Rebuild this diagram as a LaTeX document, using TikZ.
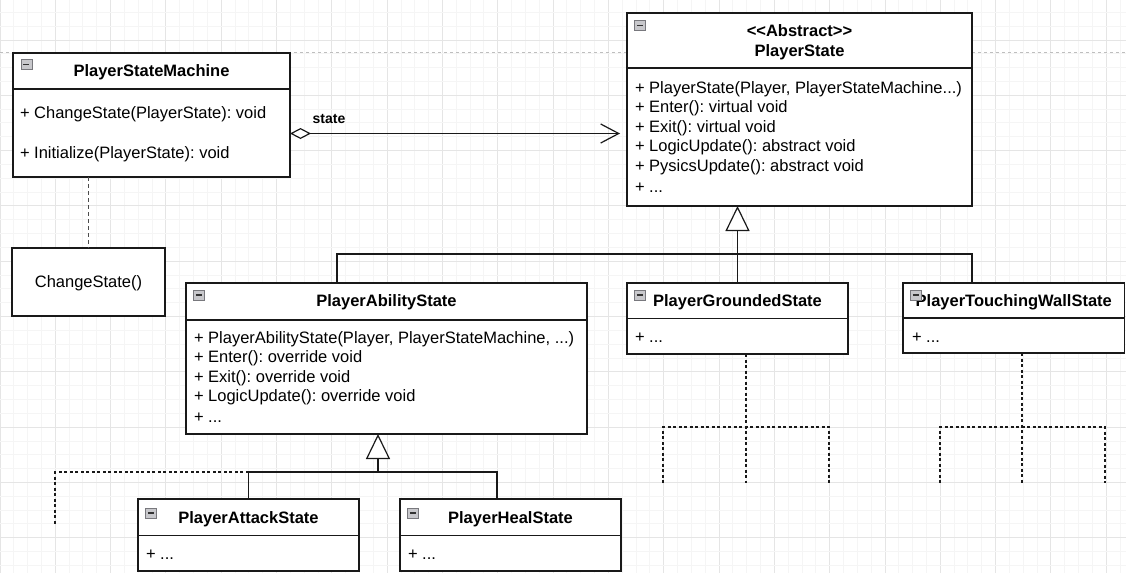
\documentclass[tikz,border=0pt]{standalone}
\usepackage{fontspec}
\newfontfamily\umlfont{Liberation Sans}
\newcommand\umlsz{\umlfont\fontsize{16.5pt}{19.8pt}\selectfont\frenchspacing}
\usetikzlibrary{arrows.meta}
\definecolor{gmin}{RGB}{245,245,245}
\definecolor{gmaj}{RGB}{229,229,229}
\definecolor{pgbrk}{RGB}{190,190,190}
\definecolor{iconfill}{RGB}{200,200,204}
\definecolor{iconline}{RGB}{120,120,125}
\begin{document}
\begin{tikzpicture}[x=1pt,y=-1pt,
  box/.style={draw=black!90, line width=1.2pt, fill=white, inner sep=0pt, outer sep=0pt, anchor=north west},
  txt/.style={font=\umlsz, inner sep=0pt, outer sep=0pt, anchor=west, text=black, text height=11.5pt, text depth=0pt},
  ttl/.style={font=\umlsz\bfseries, inner sep=0pt, outer sep=0pt, anchor=center, text=black, text height=11.5pt, text depth=0pt},
  ln/.style={draw=black!90, line width=1.2pt},
  dln/.style={ln, dash pattern=on 3pt off 2.5pt},
  icon/.style={draw=iconline, fill=iconfill, line width=0.8pt, minimum width=11pt, minimum height=10pt, inner sep=0pt, anchor=north west,
    path picture={\draw[black!80, line width=1.3pt] ([xshift=2.5pt]path picture bounding box.west) -- ([xshift=-2.5pt]path picture bounding box.east);}},
  inh/.style={ln, -{Triangle[fill=white, length=25pt, width=24pt]}}
]
\useasboundingbox (0,0) rectangle (1126,573);
\fill[white] (0,0) rectangle (1126,573);
% grid
\foreach \i in {0,...,81}{
  \pgfmathsetmacro\gx{\i*13.828}
  \pgfmathtruncatemacro\m{mod(\i,4)}
  \ifnum\m=0 \draw[gmaj, line width=1pt] (\gx,0) -- (\gx,573);
  \else \draw[gmin, line width=1pt] (\gx,0) -- (\gx,573); \fi
}
\foreach \j in {0,...,45}{
  \pgfmathsetmacro\gy{40+(\j-3)*13.828}
  \pgfmathtruncatemacro\m{mod(\j+1,4)}
  \ifnum\m=0 \draw[gmaj, line width=1pt] (0,\gy) -- (1126,\gy);
  \else \draw[gmin, line width=1pt] (0,\gy) -- (1126,\gy); \fi
}
% page break line
\draw[pgbrk, line width=0.9pt, dash pattern=on 3pt off 3pt] (0,52.7) -- (1126,52.7);

% ---------- PlayerStateMachine
\node[box, minimum width=277pt, minimum height=124pt] (psm) at (13,53) {};
\draw[ln] (psm.west |- 0,89) -- (psm.east |- 0,89);
\node[ttl] (psmT) at (151.5,71) {PlayerStateMachine};
\node[icon] (psmI) at (20.5,59) {};
\node[txt] (psm1) at (20,113) {+ ChangeState(PlayerState): void};
\node[txt] (psm2) at (20,153) {+ Initialize(PlayerState): void};

% ---------- ChangeState()
\node[box, minimum width=153pt, minimum height=68pt] (cs) at (12,248) {};
\node[txt, anchor=center] (csT) at (cs.center) {ChangeState()};

% ---------- PlayerState
\node[box, minimum width=345pt, minimum height=193pt] (ps) at (627,13) {};
\draw[ln] (ps.west |- 0,68) -- (ps.east |- 0,68);
\node[ttl] (psT1) at (799.5,31) {<<Abstract>>};
\node[ttl] (psT2) at (799.5,50.5) {PlayerState};
\node[icon] (psI) at (634,20) {};
\node[txt] (ps1) at (635,87.3) {+ PlayerState(Player, PlayerStateMachine...)};
\node[txt] (ps2) at (635,106.5) {+ Enter(): virtual void};
\node[txt] (ps3) at (635,126.5) {+ Exit(): virtual void};
\node[txt] (ps4) at (635,146) {+ LogicUpdate(): abstract void};
\node[txt] (ps5) at (635,166) {+ PysicsUpdate(): abstract void};
\node[txt] (ps6) at (635,186.5) {+ ...};

% ---------- PlayerAbilityState
\node[box, minimum width=401pt, minimum height=151pt] (pas) at (186,283) {};
\draw[ln] (pas.west |- 0,320) -- (pas.east |- 0,320);
\node[ttl] (pasT) at (386.5,301) {PlayerAbilityState};
\node[icon] (pasI) at (193,289.5) {};
\node[txt] (pas1) at (194,337.7) {+ PlayerAbilityState(Player, PlayerStateMachine, ...)};
\node[txt] (pas2) at (194,356.7) {+ Enter(): override void};
\node[txt] (pas3) at (194,376.7) {+ Exit(): override void};
\node[txt] (pas4) at (194,396) {+ LogicUpdate(): override void};
\node[txt] (pas5) at (194,416.7) {+ ...};

% ---------- PlayerGroundedState
\node[box, minimum width=221pt, minimum height=71pt] (pgs) at (627,283) {};
\draw[ln] (pgs.west |- 0,318.5) -- (pgs.east |- 0,318.5);
\node[ttl] (pgsT) at (737.5,300.7) {PlayerGroundedState};
\node[icon] (pgsI) at (634,289.5) {};
\node[txt] (pgs1) at (635,336.7) {+ ...};

% ---------- PlayerTouchingWallState
\node[box, minimum width=221.5pt, minimum height=70pt] (ptws) at (903,283) {};
\draw[ln] (ptws.west |- 0,318) -- (ptws.east |- 0,318);
\node[ttl] (ptwsT) at (1013.75,300.7) {PlayerTouchingWallState};
\node[icon] (ptwsI) at (910,289.5) {};
\node[txt] (ptws1) at (912,336.5) {+ ...};

% ---------- PlayerAttackState
\node[box, minimum width=221pt, minimum height=72pt] (pats) at (138,499) {};
\draw[ln] (pats.west |- 0,535.3) -- (pats.east |- 0,535.3);
\node[ttl] (patsT) at (248.5,517.7) {PlayerAttackState};
\node[icon] (patsI) at (145,507.5) {};
\node[txt] (pats1) at (146,554) {+ ...};

% ---------- PlayerHealState
\node[box, minimum width=221pt, minimum height=72pt] (phs) at (400,499) {};
\draw[ln] (phs.west |- 0,535.3) -- (phs.east |- 0,535.3);
\node[ttl] (phsT) at (510.5,517.7) {PlayerHealState};
\node[icon] (phsI) at (407,507.5) {};
\node[txt] (phs1) at (408,554) {+ ...};

% ---------- connectors
% dependency to note
\draw[black!70, line width=1.7pt, dash pattern=on 4pt off 3pt] (cs.north |- psm.south) -- (cs.north);

% aggregation "state"
\draw[ln, {Diamond[fill=white, length=21pt, width=11pt]}-{Straight Barb[length=18pt, width=19pt]}, shorten >=7pt]
  (psm.east |- 0,133.5) -- (ps.west |- 0,133.5);
\node[font=\umlfont\fontsize{14pt}{16pt}\selectfont\bfseries, inner sep=0pt, text=black] (stateL) at (329,119) {state};

% inheritance to PlayerState
\coordinate (busL) at (337,254);
\coordinate (busR) at (972,254);
\draw[ln] (pas.north -| busL) |- (busR) -- (ptws.north -| busR);
\draw[inh] (pgs.north) -- (pgs.north |- ps.south);

% inheritance to PlayerAbilityState
\coordinate (inh2) at (378,472);
\coordinate (busR2) at (497,472);
\coordinate (dEnd) at (55,524);
\draw[dln] (pats.north |- inh2) -| (dEnd);
\draw[ln] (pats.north) |- (busR2) -- (phs.north -| busR2);
\draw[inh] (inh2) -- (inh2 |- pas.south);

% dashed subtrees under PlayerGroundedState
\coordinate (gL) at (663,483);
\coordinate (gM) at (746,483);
\coordinate (gR) at (829,483);
\coordinate (gJ) at (746,427);
\draw[dln] (pgs.south -| gM) -- (gM);
\draw[dln] (gL) |- (gR |- gJ) -- (gR);

% dashed subtrees under PlayerTouchingWallState
\coordinate (tL) at (940,483);
\coordinate (tM) at (1022,483);
\coordinate (tR) at (1105,483);
\coordinate (tJ) at (1022,427);
\draw[dln] (ptws.south -| tM) -- (tM);
\draw[dln] (tL) |- (tR |- tJ) -- (tR);
\end{tikzpicture}
\end{document}
